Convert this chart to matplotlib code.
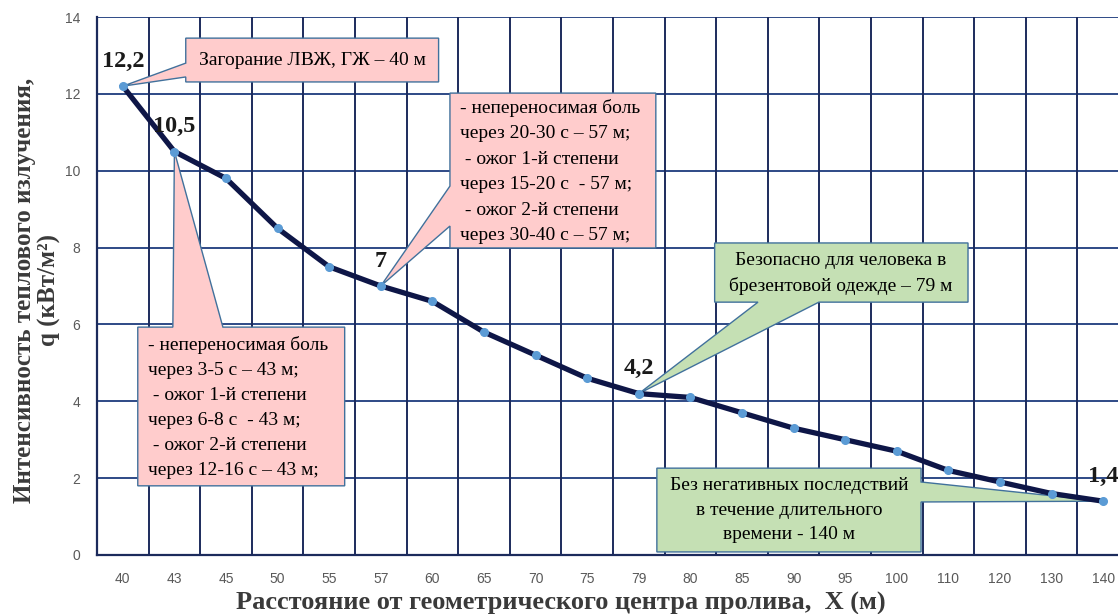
import matplotlib
matplotlib.use("Agg")
import matplotlib.pyplot as plt
from matplotlib.patches import Polygon

# ---------- data ----------
distances = ["40", "43", "45", "50", "55", "57", "60", "65", "70", "75",
             "79", "80", "85", "90", "95", "100", "110", "120", "130", "140"]
q_values = [12.2, 10.5, 9.8, 8.5, 7.5, 7.0, 6.6, 5.8, 5.2, 4.6,
            4.2, 4.1, 3.7, 3.3, 3.0, 2.7, 2.2, 1.9, 1.6, 1.4]
label_idx = [0, 1, 5, 10, 19]
label_txt = ["12,2", "10,5", "7", "4,2", "1,4"]

serif = "Liberation Serif"
navy = "#1c2b5c"
pink = "#ffcccc"
green = "#c5e0b4"
edge = "#41719c"

fig = plt.figure(figsize=(11.18, 6.14), dpi=100)
ax = fig.add_axes([97 / 1118, 59 / 614, 1032 / 1118, 538 / 614])

x = list(range(len(distances)))
ax.set_xlim(-0.5, len(distances) - 0.5)
ax.set_ylim(0, 14)
ax.set_yticks(range(0, 15, 2))
ax.set_xticks(x)
ax.set_xticklabels(distances)

# grid: horizontal at major y, vertical between categories
for yv in range(2, 15, 2):
    ax.axhline(yv, color="#2e4a86", lw=1.4, zorder=1)
for k in range(1, len(distances)):
    ax.axvline(k - 0.5, color=navy, lw=1.4, zorder=1)
for s in ["top", "right"]:
    ax.spines[s].set_visible(False)
for s in ["left", "bottom"]:
    ax.spines[s].set_color(navy)
    ax.spines[s].set_linewidth(1.6)
ax.tick_params(length=0, labelsize=10, labelcolor="#595959", pad=12)
for t in ax.get_xticklabels() + ax.get_yticklabels():
    t.set_family("Liberation Sans")

ax.plot(x, q_values, color="#0e1647", lw=3.8, zorder=5,
        marker="o", markersize=5.5, markerfacecolor="#5b9bd5",
        markeredgecolor="#5b9bd5", solid_joinstyle="round")

for i, t in zip(label_idx, label_txt):
    ax.annotate(t, (x[i], q_values[i]), xytext=(0, 18), textcoords="offset points",
                ha="center", va="center", fontsize=17.5, fontweight="bold",
                family=serif, color="#1a1a1a", zorder=6)


# ---------- callouts ----------
def callout(x0, x1, y0, y1, side, base, tip, color):
    # box x0..x1, y0 (bottom)..y1 (top); wedge base on a side, pointing to tip
    b0, b1 = base
    if side == "left":
        pts = [(x0, y1), (x1, y1), (x1, y0), (x0, y0), (x0, b0), tip, (x0, b1)]
    elif side == "right":
        pts = [(x0, y1), (x1, y1), (x1, b1), tip, (x1, b0), (x1, y0), (x0, y0)]
    elif side == "top":
        pts = [(x0, y1), (b0, y1), tip, (b1, y1), (x1, y1), (x1, y0), (x0, y0)]
    else:  # bottom
        pts = [(x0, y1), (x1, y1), (x1, y0), (b1, y0), tip, (b0, y0), (x0, y0)]
    ax.add_patch(Polygon(pts, closed=True, facecolor=color, edgecolor=edge,
                         lw=1.0, zorder=3))


def pt(i):
    return (x[i], q_values[i])


box_fs = 14
callout(1.22, 6.12, 12.31, 13.45, "left", (12.44, 12.80), pt(0), pink)
ax.text(3.67, 12.88, "Загорание ЛВЖ, ГЖ – 40 м", ha="center", va="center",
        fontsize=box_fs, family=serif, zorder=4)

callout(6.34, 10.33, 7.99, 12.02, "left", (8.56, 9.60), pt(5), pink)
ax.text(6.53, 9.98, "- непереносимая боль\nчерез 20-30 с – 57 м;\n - ожог 1-й степени\n"
        "через 15-20 с  - 57 м;\n - ожог 2-й степени\nчерез 30-40 с – 57 м;",
        ha="left", va="center", fontsize=box_fs, family=serif, linespacing=1.65, zorder=4)

callout(0.29, 4.30, 1.80, 5.93, "top", (0.97, 1.94), pt(1), pink)
ax.text(0.48, 3.84, "- непереносимая боль\nчерез 3-5 с – 43 м;\n - ожог 1-й степени\n"
        "через 6-8 с  - 43 м;\n - ожог 2-й степени\nчерез 12-16 с – 43 м;",
        ha="left", va="center", fontsize=box_fs, family=serif, linespacing=1.62, zorder=4)

callout(11.47, 16.38, 6.58, 8.12, "bottom", (12.31, 13.49), pt(10), green)
ax.text(13.92, 7.32, "Безопасно для человека в\nбрезентовой одежде – 79 м",
        ha="center", va="center", fontsize=box_fs, family=serif, linespacing=1.55, zorder=4)

callout(10.35, 15.47, 0.08, 2.26, "right", (1.38, 1.90), pt(19), green)
ax.text(12.91, 1.17, "Без негативных последствий\nв течение длительного\nвремени - 140 м",
        ha="center", va="center", fontsize=box_fs, family=serif, linespacing=1.55, zorder=4)

# ---------- axis titles ----------
fig.text(561 / 1118, 1 - 603 / 614, "Расстояние от геометрического центра пролива,  X (м)",
         ha="center", va="center", fontsize=19, fontweight="bold", family=serif, color="#3a3a3a")
fig.text(37 / 1118, 1 - 290 / 614, "Интенсивность теплового излучения,\nq (кВт/м²)",
         ha="center", va="center", rotation=90, multialignment="center",
         fontsize=18, fontweight="bold", family=serif, color="#3a3a3a", linespacing=1.05)

fig.savefig("out.png", dpi=100)
